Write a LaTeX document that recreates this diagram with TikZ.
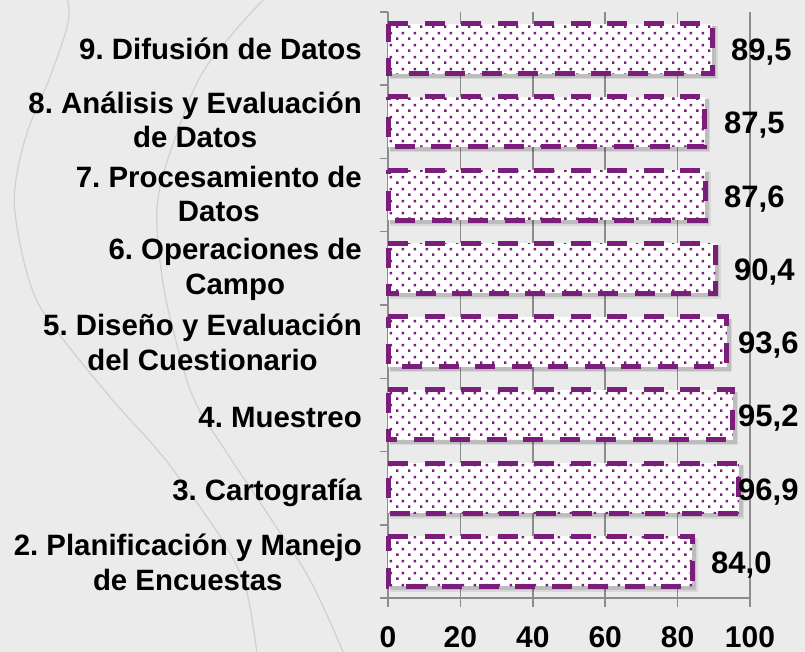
\documentclass[tikz,border=0pt]{standalone}
\usepackage{fontspec}
\setmainfont{Liberation Sans}
\usetikzlibrary{patterns.meta}
\frenchspacing
\definecolor{barpurple}{RGB}{123,30,123}
\definecolor{bggray}{RGB}{235,235,235}
\definecolor{gridgray}{RGB}{140,140,140}
\definecolor{curvegray}{RGB}{208,208,208}
\pgfdeclarepattern{
  name=purpledots,
  type=colored,
  bottom left={\pgfpointorigin},
  top right={\pgfpoint{12pt}{12pt}},
  tile size={\pgfpoint{12pt}{12pt}},
  code={
    \pgfsetfillcolor{barpurple}
    \pgfpathrectangle{\pgfpoint{0pt}{0pt}}{\pgfpoint{2.7pt}{2.7pt}}
    \pgfpathrectangle{\pgfpoint{6pt}{6pt}}{\pgfpoint{2.7pt}{2.7pt}}
    \pgfusepath{fill}
  }
}
\tikzset{
  catlabel/.style={anchor=base east, align=center, inner sep=0pt,
    font=\fontsize{29.4}{34.5}\selectfont\bfseries},
  vallabel/.style={anchor=base west, inner sep=0pt,
    font=\fontsize{31}{36}\selectfont\bfseries},
  axlabel/.style={anchor=base, inner sep=0pt,
    font=\fontsize{30}{36}\selectfont\bfseries},
  gridline/.style={draw=gridgray, line width=1.5pt},
  bgcurve/.style={draw=curvegray, line width=1.2pt},
  barborder/.style={draw=barpurple, line width=5pt, dash pattern=on 20pt off 16.5pt},
}
\begin{document}
\begin{tikzpicture}[x=1pt, y=-1pt]
  % background
  \fill[bggray] (0,0) rectangle (805,652);
  \useasboundingbox (0,0) rectangle (805,652);
  % faint background curves
  \draw[bgcurve] plot[smooth, tension=0.6] coordinates {(67,-2) (68,23) (50,77) (27,133) (15,187) (17,227) (30,283) (50,322) (110,397) (160,453) (200,507) (230,553) (247,593) (257,654)};
  \draw[bgcurve] plot[smooth, tension=0.6] coordinates {(265,-2) (233,33) (200,77) (177,133) (160,187) (157,227) (163,283) (172,325) (193,397) (227,453) (267,513) (310,580) (344,654)};
  % grid lines and axes
  \foreach \g in {20,40,60,80,100} {
    \pgfmathsetmacro{\gx}{388+3.62*\g}
    \draw[gridline] (\gx,12) -- (\gx,607);
  }
  \draw[gridline] (388,12) -- (388,607);
  \draw[gridline] (388,598) -- (750,598);
  \foreach \k in {0,...,8} {
    \pgfmathsetmacro{\ty}{12+73.25*\k}
    \draw[gridline] (380,\ty) -- (388,\ty);
  }
  % bars
  \foreach \v/\k in {89.5/0, 87.5/1, 87.6/2, 90.4/3, 93.6/4, 95.2/5, 96.9/6, 84.0/7} {
    \pgfmathsetmacro{\c}{48.6+73.25*\k}
    \pgfmathsetmacro{\xe}{388+3.62*\v}
    \pgfmathsetmacro{\yt}{\c-25}
    \pgfmathsetmacro{\yb}{\c+25}
    \fill[black, opacity=0.08] (390,\yt+2) rectangle (\xe+5.5,\yb+5.5);
    \fill[black, opacity=0.12] (390,\yt+2) rectangle (\xe+4,\yb+4);
    \fill[white] (388,\yt) rectangle (\xe,\yb);
    \fill[pattern=purpledots] (388,\yt) rectangle (\xe,\yb);
    \draw[barborder] (388,\yt) -- (\xe,\yt) -- (\xe,\yb) -- (388,\yb) -- cycle;
  }
  % value labels
  \node[vallabel] (v9) at (731,60.6) {89,5};
  \node[vallabel] (v8) at (724,133.9) {87,5};
  \node[vallabel] (v7) at (724,207.1) {87,6};
  \node[vallabel] (v6) at (734,280.4) {90,4};
  \node[vallabel] (v5) at (738,353.6) {93,6};
  \node[vallabel] (v4) at (738,426.9) {95,2};
  \node[vallabel] (v3) at (738,500.1) {96,9};
  \node[vallabel] (v2) at (711,573.4) {84,0};
  % category labels (multi-line nodes: base = last line)
  \node[catlabel] (c9) at (362,60) {9. Difusión de Datos};
  \node[catlabel] (c8) at (362,148) {8. Análisis y Evaluación\\de Datos};
  \node[catlabel] (c7) at (362,222) {7. Procesamiento de\\Datos};
  \node[catlabel] (c6) at (362,294) {6. Operaciones de\\Campo};
  \node[catlabel] (c5) at (362,370) {5. Diseño y Evaluación\\del Cuestionario};
  \node[catlabel] (c4) at (362,427) {4. Muestreo};
  \node[catlabel] (c3) at (362,500) {3. Cartografía};
  \node[catlabel] (c2) at (362,590) {2. Planificación y Manejo\\de Encuestas};
  % axis labels
  \node[axlabel] (t0) at (388,647) {0};
  \node[axlabel] (t20) at (460.4,647) {20};
  \node[axlabel] (t40) at (532.8,647) {40};
  \node[axlabel] (t60) at (605.2,647) {60};
  \node[axlabel] (t80) at (677.6,647) {80};
  \node[axlabel] (t100) at (750,647) {100};
\end{tikzpicture}
\end{document}
